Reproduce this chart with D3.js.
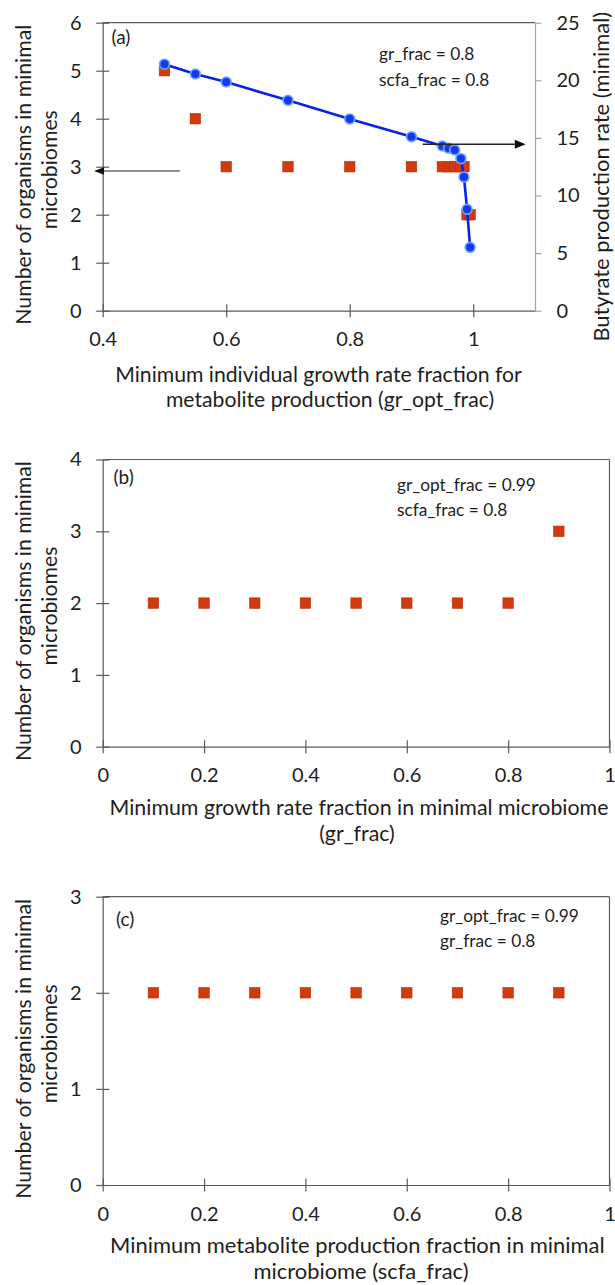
<!DOCTYPE html>
<html><head><meta charset="utf-8">
<script src="https://cdn.jsdelivr.net/npm/d3@7"></script>
<style>body{margin:0;background:#fff;overflow:hidden} svg{display:block} text{font-family:Lato,"Open Sans",sans-serif}</style>
</head><body><svg id="c" width="615" height="1285"></svg>
<script>
// ---------- data ----------
const xA = [0.5, 0.55, 0.6, 0.7, 0.8, 0.9, 0.95, 0.96, 0.97, 0.98, 0.985, 0.99, 0.995];
const countsA = [5, 4, 3, 3, 3, 3, 3, 3, 3, 3, 3, 2, 2];
const butyrateA = [21.4, 20.55, 19.85, 18.26, 16.65, 15.1, 14.3, 14.1, 13.95, 13.2, 11.6, 8.8, 5.5];
const xB = [0.1, 0.2, 0.3, 0.4, 0.5, 0.6, 0.7, 0.8, 0.9];
const countsB = [2, 2, 2, 2, 2, 2, 2, 2, 3];
const xC = [0.1, 0.2, 0.3, 0.4, 0.5, 0.6, 0.7, 0.8, 0.9];
const countsC = [2, 2, 2, 2, 2, 2, 2, 2, 2];
const ticksAX = [0.4, 0.6, 0.8, 1];
const ticksAY = [0, 1, 2, 3, 4, 5, 6];
const ticksAY2 = [0, 5, 10, 15, 20, 25];
const ticksBX = [0, 0.2, 0.4, 0.6, 0.8, 1];
const ticksBY = [0, 1, 2, 3, 4];
const ticksCX = [0, 0.2, 0.4, 0.6, 0.8, 1];
const ticksCY = [0, 1, 2, 3];
const arrowsA = [
  {axis: "right", y: 14.45, from: 0.918, to: 1.085},
  {axis: "left", y: 2.91, from: 0.525, to: 0.386}
];
const yTitle = ["Number of organisms in minimal", "microbiomes"];
const y2Title = "Butyrate production rate (minimal)";

// ---------- style ----------
const AXIS = "#5a5a5a", AXIS2 = "#a6a6a6", TXT = "#1e1e1e";
const RED = "#d2390b", RED_S = "#b8320a", BLUE = "#0a22e6", BLUE_S = "#6aa6ff";
const svg = d3.select("#c");

function fitText(t, w) {
  const fs = parseFloat(t.attr("font-size"));
  const len = t.node().getComputedTextLength();
  t.attr("font-size", fs * w / len);
  return fs * w / len;
}

function styleAxis(a, col) {
  a.select(".domain").attr("stroke", col || AXIS).attr("stroke-width", 1.2);
  a.selectAll(".tick line").attr("stroke", col || AXIS).attr("stroke-width", 1.2);
  a.selectAll(".tick text").attr("font-family", "Lato").attr("font-size", 20).attr("fill", TXT);
}

function panel(cfg) {
  const g = svg.append("g");
  const x = d3.scaleLinear().domain(cfg.xDomain).range([cfg.left, cfg.right]);
  const y = d3.scaleLinear().domain(cfg.yDomain).range([cfg.bottom, cfg.top]);

  // top & right border
  g.append("line").attr("x1", cfg.left).attr("x2", cfg.right).attr("y1", cfg.top).attr("y2", cfg.top)
    .attr("stroke", AXIS).attr("stroke-width", 1.2);
  if (!cfg.y2) g.append("line").attr("x1", cfg.right).attr("x2", cfg.right).attr("y1", cfg.top).attr("y2", cfg.bottom)
    .attr("stroke", AXIS).attr("stroke-width", 1.2);

  // left axis
  const ax = g.append("g").attr("transform", `translate(${cfg.left},0)`)
    .call(d3.axisLeft(y).tickValues(cfg.yTicks).tickFormat(d => String(d)).tickSize(6.5).tickSizeOuter(0).tickPadding(14.5));
  ax.selectAll(".tick line").attr("x1", 6.5);
  styleAxis(ax);

  // bottom axis
  const bx = g.append("g").attr("transform", `translate(0,${cfg.bottom})`)
    .call(d3.axisBottom(x).tickValues(cfg.xTicks).tickFormat(d => String(d)).tickSize(6.5).tickSizeOuter(0).tickPadding(15));
  bx.selectAll(".tick line").attr("y1", -6.5);
  styleAxis(bx);

  let y2 = null;
  if (cfg.y2) {
    y2 = d3.scaleLinear().domain(cfg.y2Domain).range([cfg.bottom, cfg.top]);
    const rx = g.append("g").attr("transform", `translate(${cfg.right},0)`)
      .call(d3.axisRight(y2).tickValues(cfg.y2Ticks).tickFormat(d => String(d)).tickSize(6.5).tickSizeOuter(0).tickPadding(15));
    styleAxis(rx, AXIS2);
  }

  // red squares
  const S = 10.5;
  g.append("g").selectAll("rect").data(cfg.xs.map((d, i) => [d, cfg.counts[i]])).join("rect")
    .attr("x", d => x(d[0]) - S / 2).attr("y", d => y(d[1]) - S / 2)
    .attr("width", S).attr("height", S).attr("fill", RED).attr("stroke", RED_S).attr("stroke-width", 0.6);

  // blue line
  if (cfg.line) {
    const pts = cfg.xs.map((d, i) => [d, cfg.line[i]]);
    g.append("path").datum(pts).attr("fill", "none").attr("stroke", BLUE).attr("stroke-width", 2.6)
      .attr("d", d3.line().x(d => x(d[0])).y(d => y2(d[1])));
    g.append("g").selectAll("circle").data(pts).join("circle")
      .attr("cx", d => x(d[0])).attr("cy", d => y2(d[1])).attr("r", 4.9)
      .attr("fill", "#1438f0").attr("stroke", BLUE_S).attr("stroke-width", 1.7);
  }

  // arrows
  (cfg.arrows || []).forEach(a => {
    const sc = a.axis === "right" ? y2 : y;
    const yy = sc(a.y), xt = x(a.from), xh = x(a.to);
    const dir = xh > xt ? 1 : -1;
    const L = a.axis === "right" ? 11 : 10, H = a.axis === "right" ? 4.6 : 3.8;
    g.append("line").attr("x1", xt).attr("x2", xh - dir * L).attr("y1", yy).attr("y2", yy)
      .attr("stroke", "#222").attr("stroke-width", a.axis === "right" ? 1.4 : 1.1);
    g.append("path").attr("d", `M${xh},${yy}L${xh - dir * L},${yy - H}L${xh - dir * L},${yy + H}Z`).attr("fill", "#111");
  });

  // panel label
  g.append("text").attr("x", cfg.label[1]).attr("y", cfg.label[2]).attr("font-size", 19).attr("fill", TXT).text(cfg.label[0]);

  // notes
  cfg.notes.forEach((n, i) => {
    g.append("text").attr("x", cfg.noteX).attr("y", cfg.noteY[i]).attr("font-size", cfg.noteFS).attr("fill", TXT).text(n);
  });

  // x title (line 2 uses the same size as line 1)
  const l1 = g.append("text").attr("x", cfg.xTitleX[0]).attr("y", cfg.bottom + cfg.xTitleDY[0])
    .attr("text-anchor", "middle").attr("font-size", 20).attr("fill", TXT).text(cfg.xTitle[0]);
  const xfs = fitText(l1, cfg.xTitleW);
  g.append("text").attr("x", cfg.xTitleX[1]).attr("y", cfg.bottom + cfg.xTitleDY[1])
    .attr("text-anchor", "middle").attr("font-size", xfs).attr("fill", TXT).text(cfg.xTitle[1]);

  // y title
  const cy = (cfg.top + cfg.bottom) / 2;
  const t1 = g.append("text").attr("transform", `translate(31,${cy + 8}) rotate(-90)`)
    .attr("text-anchor", "middle").attr("font-size", 20).attr("fill", TXT).text(yTitle[0]);
  const fs = fitText(t1, 300);
  g.append("text").attr("transform", `translate(57,${cy + 3}) rotate(-90)`)
    .attr("text-anchor", "middle").attr("font-size", fs).attr("fill", TXT).text(yTitle[1]);
  if (cfg.y2) {
    const t2 = g.append("text").attr("transform", `translate(609,${cy + 10}) rotate(-90)`)
      .attr("text-anchor", "middle").attr("font-size", fs).attr("fill", TXT).text(y2Title);
    fitText(t2, 330);
  }
  return {x, y};
}

// annotation font: fit to measured width
const probe = svg.append("text").attr("font-size", 17).text("gr_opt_frac = 0.99");
const NOTE_FS = fitText(probe, 139);
probe.remove();

panel({
  left: 102.7, right: 535, top: 22.7, bottom: 310.7,
  xDomain: [0.4, 1.1], yDomain: [0, 6], xTicks: ticksAX, yTicks: ticksAY,
  y2: true, y2Domain: [0, 25], y2Ticks: ticksAY2,
  xs: xA, counts: countsA, line: butyrateA, arrows: arrowsA,
  label: ["(a)", 111.5, 44], notes: ["gr_frac = 0.8", "scfa_frac = 0.8"], noteX: 379, noteY: [60, 85.5], noteFS: NOTE_FS,
  xTitle: ["Minimum individual growth rate fraction for", "metabolite production (gr_opt_frac)"],
  xTitleX: [318.5, 330], xTitleDY: [71, 96], xTitleW: 406.7
});
panel({
  left: 102.7, right: 609.5, top: 459.5, bottom: 746.7,
  xDomain: [0, 1], yDomain: [0, 4], xTicks: ticksBX, yTicks: ticksBY,
  xs: xB, counts: countsB,
  label: ["(b)", 113.5, 484], notes: ["gr_opt_frac = 0.99", "scfa_frac = 0.8"], noteX: 397, noteY: [491, 516], noteFS: NOTE_FS,
  xTitle: ["Minimum growth rate fraction in minimal microbiome", "(gr_frac)"],
  xTitleX: [359, 357], xTitleDY: [68, 94], xTitleW: 499
});
panel({
  left: 102.7, right: 609.5, top: 896.7, bottom: 1185,
  xDomain: [0, 1], yDomain: [0, 3], xTicks: ticksCX, yTicks: ticksCY,
  xs: xC, counts: countsC,
  label: ["(c)", 116, 926], notes: ["gr_opt_frac = 0.99", "gr_frac = 0.8"], noteX: 440, noteY: [922, 947], noteFS: NOTE_FS,
  xTitle: ["Minimum metabolite production fraction in minimal", "microbiome (scfa_frac)"],
  xTitleX: [357.3, 361], xTitleDY: [67.5, 94], xTitleW: 495
});
</script></body></html>
